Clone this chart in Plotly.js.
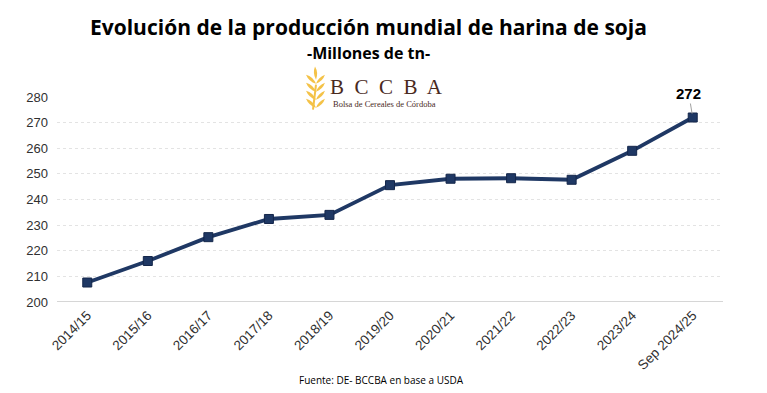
<!DOCTYPE html>
<html>
<head>
<meta charset="utf-8">
<script src="https://cdn.plot.ly/plotly-3.0.1.min.js"></script>
<style>html,body{margin:0;padding:0;background:#fff;}#chart{width:767px;height:393px;}</style>
</head>
<body>
<div id="chart"></div>
<script>
const categories = ["2014/15","2015/16","2016/17","2017/18","2018/19","2019/20","2020/21","2021/22","2022/23","2023/24","Sep 2024/25"];
const production = [207.6, 216.0, 225.3, 232.4, 234.0, 245.6, 248.1, 248.3, 247.7, 259.0, 272.0];
const yTicks = [200,210,220,230,240,250,260,270,280];

// plot area geometry (pixels) used only for logo decoration placement
const L = 57, R = 723, T = 97.3, B = 301.7;
const px = x => (x - L) / (R - L);
const py = y => (B - y) / (B - T);

function leaf(sx, sy, tx, ty, w) {
  const dx = tx - sx, dy = ty - sy;
  const len = Math.hypot(dx, dy);
  const nx = -dy / len * w, ny = dx / len * w;
  const mx = (sx + tx) / 2, my = (sy + ty) / 2;
  return `M ${px(sx)},${py(sy)} Q ${px(mx+nx)},${py(my+ny)} ${px(tx)},${py(ty)} Q ${px(mx-nx)},${py(my-ny)} ${px(sx)},${py(sy)} Z`;
}
const gold = "#f4c247";
const shapes = [];
const cx = 316;
shapes.push({type:"path", xref:"paper", yref:"paper", path: leaf(cx, 80, cx-1, 67, 3.2), fillcolor: gold, line:{width:0}, layer:"above"});
const rows = [78, 86, 94, 102];
rows.forEach(y => {
  shapes.push({type:"path", xref:"paper", yref:"paper", path: leaf(cx, y+6, cx-10, y-3, 3.2), fillcolor: gold, line:{width:0}, layer:"above"});
  shapes.push({type:"path", xref:"paper", yref:"paper", path: leaf(cx, y+6, cx+9, y-3, 3.0), fillcolor: gold, line:{width:0}, layer:"above"});
});
shapes.push({type:"line", xref:"paper", yref:"paper", x0:px(cx), y0:py(85), x1:px(cx-3), y1:py(110), line:{color:gold, width:2}});

const trace = {
  x: categories,
  y: production,
  type: "scatter",
  mode: "lines+markers",
  line: {color: "#1f3864", width: 3.8},
  marker: {symbol: "square", size: 9, color: "#1f3864", line: {color: "#14264a", width: 1}},
  hoverinfo: "skip"
};

const last = categories.length - 1;
const layout = {
  width: 767, height: 393,
  margin: {l: L, r: 767 - R, t: T, b: 393 - B},
  paper_bgcolor: "#fff", plot_bgcolor: "#fff",
  showlegend: false,
  font: {family: "Liberation Sans, Arial, sans-serif", color: "#404040", size: 12},
  xaxis: {
    type: "category",
    tickangle: -45,
    showgrid: false,
    showline: false,
    zeroline: false,
    ticks: "",
    ticklabelstandoff: 2,
    tickfont: {size: 13.5, color: "#303030"},
    range: [-0.5, categories.length - 0.5]
  },
  yaxis: {
    range: [200, 280],
    tickvals: yTicks,
    ticktext: yTicks.map(String),
    showgrid: true,
    gridcolor: "#e3e3e3",
    griddash: "dot",
    gridwidth: 1,
    zeroline: false,
    showline: false,
    ticks: "",
    ticklabelstandoff: 8,
    tickfont: {size: 13, color: "#303030"}
  },
  shapes: shapes.concat([
    {type:"line", xref:"paper", yref:"y", x0:0, x1:1, y0:200, y1:200, line:{color:"#c8c8c8", width:1.5}}
  ]),
  annotations: [
    {text: "<b>Evolución de la producción mundial de harina de soja</b>", xref:"paper", yref:"paper",
     x: px(368), y: py(28), xanchor:"center", yanchor:"middle", showarrow:false,
     font:{family:"Open Sans, Liberation Sans, sans-serif", size:21, color:"#000"}},
    {text: "<b>-Millones de tn-</b>", xref:"paper", yref:"paper",
     x: px(368), y: py(53), xanchor:"center", yanchor:"middle", showarrow:false,
     font:{family:"Open Sans, Liberation Sans, sans-serif", size:16, color:"#000"}},
    {text: "B  C  C  B  A", xref:"paper", yref:"paper",
     x: px(386), y: py(87), xanchor:"center", yanchor:"middle", showarrow:false,
     font:{family:"Liberation Serif, DejaVu Serif, serif", size:21, color:"#4a2a1e"}},
    {text: "Bolsa de Cereales de Córdoba", xref:"paper", yref:"paper",
     x: px(384), y: py(104), xanchor:"center", yanchor:"middle", showarrow:false,
     font:{family:"Liberation Serif, DejaVu Serif, serif", size:8.5, color:"#4a2a1e"}},
    {text: "<b>" + production[last].toFixed(0) + "</b>", x: categories[last], y: production[last],
     xref:"x", yref:"y", showarrow:true, arrowhead:0, arrowwidth:1, arrowcolor:"#a0a0a0",
     ax:-4, ay:-24, standoff:4,
     font:{family:"Liberation Sans, Arial, sans-serif", size:15, color:"#000"}},
    {text: "Fuente: DE- BCCBA en base a USDA", xref:"paper", yref:"paper",
     x: px(381), y: py(379), xanchor:"center", yanchor:"middle", showarrow:false,
     font:{family:"Open Sans, Liberation Sans, sans-serif", size:10, color:"#000"}}
  ]
};

Plotly.newPlot("chart", [trace], layout, {staticPlot: true, displayModeBar: false});
</script>
</body>
</html>
